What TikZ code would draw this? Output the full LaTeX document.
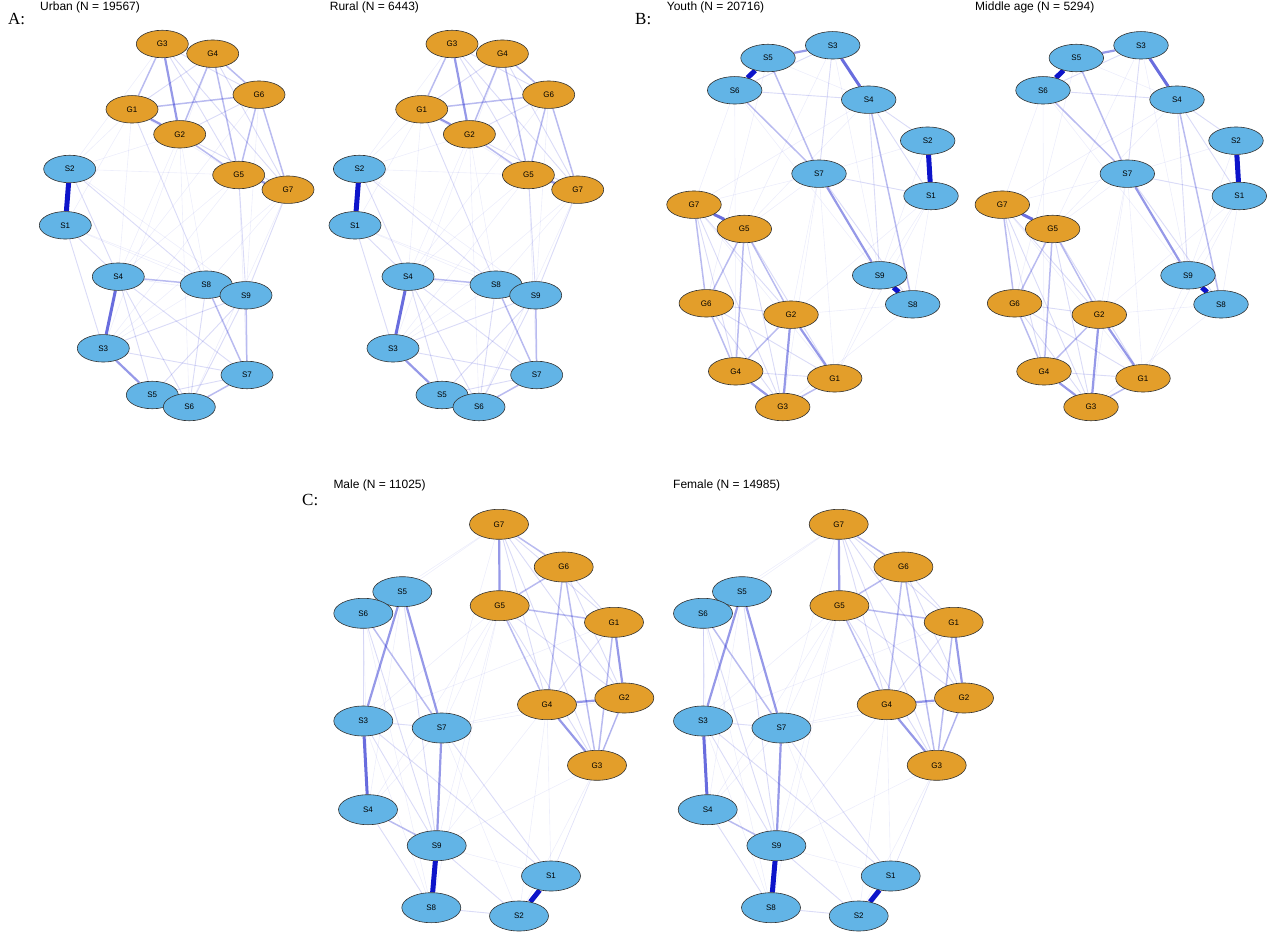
\documentclass[tikz,border=0pt]{standalone}
\usepackage{fontspec}
\setmainfont{Liberation Sans}
\newfontfamily\serifpanel{Liberation Serif}
\usetikzlibrary{shapes.geometric}
\pgfdeclarelayer{bg}
\pgfsetlayers{bg,main}
\definecolor{gold}{HTML}{E39E2A}
\definecolor{sky}{HTML}{62B4E6}
\definecolor{eb}{RGB}{5,12,200}
\tikzset{
  nd/.style={ellipse, draw=black!80, line width=0.6pt, inner sep=0pt, font=\fontsize{8}{9}\selectfont},
  gA/.style={nd, fill=gold, minimum width=52pt, minimum height=27.5pt},
  sA/.style={nd, fill=sky, minimum width=52pt, minimum height=27.5pt},
  gB/.style={nd, fill=gold, minimum width=54.5pt, minimum height=27.5pt},
  sB/.style={nd, fill=sky, minimum width=54.5pt, minimum height=27.5pt},
  gC/.style={nd, fill=gold, minimum width=59pt, minimum height=30pt},
  sC/.style={nd, fill=sky, minimum width=59pt, minimum height=30pt},
  w0/.style={draw=eb, line width=0.6pt, draw opacity=0.07},
  w1/.style={draw=eb, line width=0.9pt, draw opacity=0.15},
  w2/.style={draw=eb, line width=1.5pt, draw opacity=0.28},
  w3/.style={draw=eb, line width=2.2pt, draw opacity=0.42},
  w4/.style={draw=eb, line width=3pt, draw opacity=0.6},
  w5/.style={draw=eb, line width=5pt, draw opacity=0.97},
  ttl/.style={anchor=base west, inner sep=0pt, font=\fontsize{12}{14}\selectfont},
  pnl/.style={anchor=base west, inner sep=0pt, font=\serifpanel\fontsize{17}{19}\selectfont},
}
% ---------- layout A (Urban / Rural)
\newcommand\netA[2]{%
  \begin{scope}[xshift=#2]
    \foreach \n/\px/\py in {G1/132/109.3, G2/179.7/134.3, G3/162.3/44, G4/212.7/53.7, G5/238.7/175, G6/259/94.7, G7/288/189.7}
      \node[gA] (#1\n) at (\px,\py) {\n};
    \foreach \n/\px/\py in {S1/65.3/225.3, S2/69.7/169, S3/103.3/348.3, S4/118.3/276.7, S5/152.3/395, S6/189.3/407, S7/247/375, S8/206.3/284.7, S9/246/295.3}
      \node[sA] (#1\n) at (\px,\py) {\n};
  \end{scope}
  \begin{pgfonlayer}{bg}
    \foreach \a/\b/\s in {G5/S9/w1, G7/S9/w1, G5/S4/w0, G5/S3/w0, G2/S4/w0, G1/S2/w0, G2/S2/w0, G5/S2/w0, G7/S8/w0, G1/S4/w0, G2/S8/w0, G6/S9/w0, G4/S3/w0, G1/S1/w0, G7/S3/w0, G2/S6/w0, G6/S4/w0, G3/S2/w0, G1/S8/w1, G5/S7/w0, G7/S6/w0,
      S1/S8/w0, S2/S9/w0, S1/S9/w0, S8/S3/w0, S4/S9/w0,
      S5/S7/w1, S3/S7/w1, S2/S4/w1, S1/S3/w1, S1/S4/w1, S4/S6/w1, S4/S7/w1, S2/S8/w1, S9/S5/w1, S9/S6/w1, S9/S3/w1, S8/S6/w1, S4/S5/w1,
      S8/S7/w2, S9/S7/w2, S4/S8/w2, S6/S7/w2,
      G1/G5/w0, G2/G7/w1, G3/G4/w1, G3/G5/w1, G3/G7/w1, G4/G7/w1, G1/G4/w1, G2/G6/w1, G3/G6/w1,
      G4/G2/w2, G3/G1/w2, G4/G6/w2, G6/G5/w2, G6/G7/w2, G4/G5/w2, G1/G6/w2, G2/G5/w2,
      G1/G2/w3, G3/G2/w3, G5/G7/w3, S3/S5/w3, S3/S4/w4, S1/S2/w5}
      \draw[\s] (#1\a) -- (#1\b);
  \end{pgfonlayer}
}
% ---------- layout B (Youth / Middle age)
\newcommand\netB[2]{%
  \begin{scope}[xshift=#2]
    \foreach \n/\px/\py in {G1/834.7/378.3, G2/791/314.7, G3/782.7/407, G4/735.7/371.3, G5/744.3/229, G6/706.3/303.3, G7/694/204.7}
      \node[gB] (#1\n) at (\px,\py) {\n};
    \foreach \n/\px/\py in {S1/931/196, S2/927.7/140.7, S3/832.7/45.3, S4/868.7/99.7, S5/768/58, S6/734.7/90.3, S7/819/173.7, S8/912.7/304.3, S9/879.7/275.3}
      \node[sB] (#1\n) at (\px,\py) {\n};
  \end{scope}
  \begin{pgfonlayer}{bg}
    \foreach \a/\b/\s in {G2/S8/w0, G7/S6/w0, G7/S7/w0, G5/S7/w0, G5/S4/w0, G7/S4/w0, G6/S5/w0, G1/S1/w0, G1/S9/w0, G3/S7/w0, G2/S7/w0, G5/S3/w0, G4/S6/w0, G1/S7/w0, G3/S8/w0, G2/S1/w0,
      S5/S4/w0, S2/S7/w0, S1/S9/w0, S1/S8/w0, S2/S9/w0, S6/S9/w0, S3/S9/w0,
      S3/S7/w1, S4/S2/w1, S4/S1/w1, S6/S4/w1, S4/S9/w1, S7/S1/w1, S7/S8/w1, S6/S3/w1,
      S4/S8/w2, S5/S7/w2, S6/S7/w2,
      G7/G1/w0, G7/G4/w1, G7/G2/w1, G7/G3/w1, G5/G3/w1, G5/G1/w1, G6/G3/w1, G6/G1/w1, G6/G2/w1, G4/G1/w1,
      G7/G6/w2, G5/G6/w2, G5/G4/w2, G5/G2/w2, G6/G4/w2, G2/G4/w2, G3/G1/w2,
      G2/G3/w3, G2/G1/w3, G4/G3/w3, S3/S5/w3, S7/S9/w3,
      G7/G5/w4, S3/S4/w4, S5/S6/w5, S1/S2/w5, S8/S9/w5}
      \draw[\s] (#1\a) -- (#1\b);
  \end{pgfonlayer}
}
% ---------- layout C (Male / Female)
\newcommand\netC[2]{%
  \begin{scope}[xshift=#2]
    \foreach \n/\px/\py in {G1/614/622.3, G2/624.3/698, G3/597/765.3, G4/547/704.7, G5/499.7/605.7, G6/563.7/567, G7/499/524.3}
      \node[gC] (#1\n) at (\px,\py) {\n};
    \foreach \n/\px/\py in {S1/551/876, S2/519/916, S3/363.3/721, S4/368/809.7, S5/402.3/591.7, S6/363.3/613.3, S7/441.7/728, S8/431.3/907.7, S9/436.7/845.7}
      \node[sC] (#1\n) at (\px,\py) {\n};
  \end{scope}
  \begin{pgfonlayer}{bg}
    \foreach \a/\b/\s in {G7/S5/w0, G7/S6/w0, G5/S7/w0, G5/S3/w0, G5/S4/w0, G4/S7/w0, G4/S1/w0, G3/S1/w0, G3/S9/w0, G4/S9/w0, G5/S9/w0, G3/S2/w0, G2/S7/w0, G5/S8/w0, G7/S7/w0, G1/S3/w0, G4/S2/w0, G2/S1/w0,
      S6/S4/w0, S5/S4/w0, S3/S8/w0, S9/S1/w0, S4/S7/w0, S7/S2/w0, S6/S8/w0,
      S6/S3/w1, S3/S7/w1, S4/S8/w1, S9/S2/w1, S3/S1/w1, S7/S1/w1, S8/S2/w1, S3/S9/w1, S6/S9/w1, S5/S9/w1,
      S6/S7/w2, S4/S9/w2,
      G7/G1/w1, G7/G2/w1, G7/G4/w1, G7/G3/w1, G6/G1/w1, G6/G2/w1, G5/G2/w1, G5/G3/w1, G1/G4/w1,
      G7/G6/w2, G6/G5/w2, G6/G4/w2, G6/G3/w2, G5/G1/w2, G5/G4/w2, G1/G3/w2, G2/G3/w2,
      G7/G5/w3, G1/G2/w3, G4/G2/w3, G4/G3/w3, S5/S3/w3, S5/S7/w3, S7/S9/w3,
      S3/S4/w4, S1/S2/w5, S8/S9/w5}
      \draw[\s] (#1\a) -- (#1\b);
  \end{pgfonlayer}
}
\begin{document}
\begin{tikzpicture}[x=1pt, y=-1pt]
  \useasboundingbox (0,0) rectangle (1269,952);
  \node[pnl] (pA) at (8,25) {A:};
  \node[pnl] (pB) at (635,25) {B:};
  \node[pnl] (pC) at (302,505) {C:};
  \node[ttl] (tU) at (40,11) {Urban (N = 19567)};
  \node[ttl] (tR) at (329.7,11) {Rural (N = 6443)};
  \node[ttl] (tY) at (666.7,11) {Youth (N = 20716)};
  \node[ttl] (tM) at (975,11) {Middle age (N = 5294)};
  \node[ttl] (tMa) at (333.3,488) {Male (N = 11025)};
  \node[ttl] (tF) at (673,488) {Female (N = 14985)};
  \netA{u}{0}
  \netA{r}{289.7}
  \netB{y}{0}
  \netB{m}{308.3}
  \netC{ma}{0}
  \netC{fe}{339.7}
\end{tikzpicture}
\end{document}
